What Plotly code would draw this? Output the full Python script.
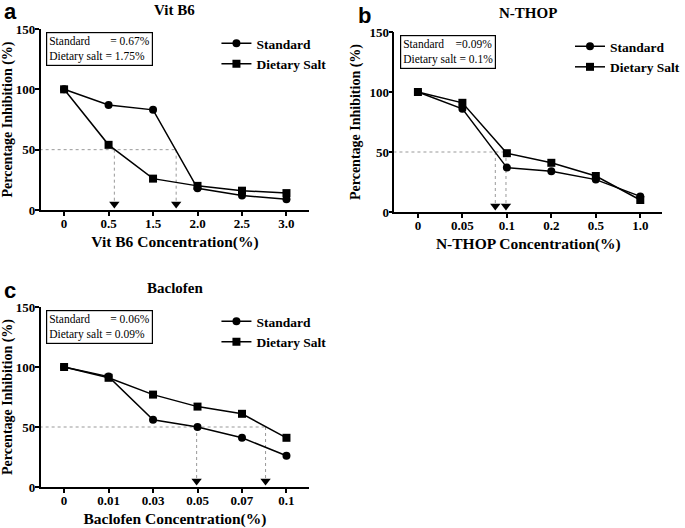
import plotly.graph_objects as go

# category labels per panel
cats_a = ["0", "0.5", "1.5", "2.0", "2.5", "3.0"]
cats_b = ["0", "0.05", "0.1", "0.2", "0.5", "1.0"]
cats_c = ["0", "0.01", "0.03", "0.05", "0.07", "0.1"]

# percentage inhibition
std_a = [100, 87, 83, 18, 12, 9]
salt_a = [100, 54, 26, 20, 16, 14]
std_b = [100, 86, 37, 34, 27, 13]
salt_b = [100, 91, 49, 41, 30, 10]
std_c = [100, 92, 56, 50, 41, 26]
salt_c = [100, 91, 77, 67, 61, 41]

# IC50 arrow positions (in category index units)
ic50_a = [1.13, 2.52]
ic50_b = [1.74, 1.98]
ic50_c = [2.98, 4.53]

titles = ["Vit B6", "N-THOP", "Baclofen"]
xtitles = ["Vit B6 Concentration(%)", "N-THOP Concentration(%)", "Baclofen Concentration(%)"]
boxes = [
    "Standard\u00a0\u00a0\u00a0\u00a0\u00a0\u00a0 = 0.67%<br>Dietary salt = 1.75%",
    "Standard\u00a0\u00a0\u00a0\u00a0=0.09%<br>Dietary salt = 0.1%",
    "Standard\u00a0\u00a0\u00a0\u00a0\u00a0\u00a0 = 0.06%<br>Dietary salt = 0.09%",
]
letters = ["a", "b", "c"]

W, H = 685, 528
SERIF = "Liberation Serif"

# pixel boxes: (left, right, top(150), bottom(0))
panels = [(41, 313, 29, 210), (399, 670, 32, 212), (41, 313, 307, 487)]

fig = go.Figure()
data = [(cats_a, std_a, salt_a, ic50_a), (cats_b, std_b, salt_b, ic50_b), (cats_c, std_c, salt_c, ic50_c)]
idx = list(range(6))

for i, (cats, std, salt, ic50) in enumerate(data):
    n = "" if i == 0 else str(i + 1)
    xa, ya = "x" + n, "y" + n
    leg = "legend" + n
    l, r, t, b = panels[i]
    # 50% reference lines
    fig.add_trace(go.Scatter(x=[-0.55, max(ic50)], y=[50, 50], mode="lines",
                             line=dict(color="#999", width=1, dash="dot"),
                             xaxis=xa, yaxis=ya, showlegend=False, hoverinfo="skip"))
    for v in ic50:
        fig.add_trace(go.Scatter(x=[v, v], y=[50, 6], mode="lines",
                                 line=dict(color="#999", width=1, dash="dot"),
                                 xaxis=xa, yaxis=ya, showlegend=False, hoverinfo="skip"))
    fig.add_trace(go.Scatter(x=ic50, y=[5, 5], mode="markers",
                             marker=dict(symbol="triangle-down", size=9, color="black"),
                             xaxis=xa, yaxis=ya, showlegend=False, cliponaxis=False))
    fig.add_trace(go.Scatter(x=idx, y=std, mode="lines+markers", name="Standard",
                             line=dict(color="black", width=1.5),
                             marker=dict(symbol="circle", size=8, color="black"),
                             xaxis=xa, yaxis=ya, legend=leg, cliponaxis=False))
    fig.add_trace(go.Scatter(x=idx, y=salt, mode="lines+markers", name="Dietary Salt",
                             line=dict(color="black", width=1.5),
                             marker=dict(symbol="square", size=8, color="black"),
                             xaxis=xa, yaxis=ya, legend=leg, cliponaxis=False))

    x0 = -0.53
    x1 = x0 + (r - l) / 45.0
    fig.layout["xaxis" + n] = dict(
        domain=[l / W, r / W], anchor=ya, range=[x0, x1], automargin=False,
        tickvals=idx, ticktext=cats, showline=True, linecolor="black", linewidth=1.5,
        ticks="outside", ticklen=4, tickwidth=1.5, tickcolor="black", showgrid=False, zeroline=False,
        ticklabelstandoff=-3,
        tickfont=dict(family=SERIF, size=13, color="black", weight="bold"),
        title=dict(text="<b>" + xtitles[i] + "</b>", font=dict(family=SERIF, size=15.5, color="black"), standoff=6),
    )
    fig.layout["yaxis" + n] = dict(
        domain=[1 - b / H, 1 - t / H], anchor=xa, range=[0, 150], automargin=False,
        tickvals=[0, 50, 100, 150], showline=True, linecolor="black", linewidth=1.5,
        ticks="outside", ticklen=4, tickwidth=1.5, tickcolor="black", showgrid=False, zeroline=False,
        ticklabelstandoff=-3,
        tickfont=dict(family=SERIF, size=13, color="black", weight="bold"),
        title=dict(text="<b>Percentage Inhibition (%)</b>", font=dict(family=SERIF, size=14, color="black"), standoff=6),
    )
    fig.layout[leg] = dict(
        x=(l + 178) / W, y=1 - (t - 1) / H, xanchor="left", yanchor="top",
        bgcolor="rgba(0,0,0,0)", itemwidth=30, tracegroupgap=0,
        font=dict(family=SERIF, size=13.5, color="black", weight="bold"),
    )
    # panel title
    fig.add_annotation(x=(l + r) / 2 / W, y=1 - (t - 19) / H, xref="paper", yref="paper",
                       xanchor="center", yanchor="middle",
                       text="<b>" + titles[i] + "</b>", showarrow=False,
                       font=dict(family=SERIF, size=15, color="black"))
    # IC50 box
    fig.add_annotation(x=(l + 6) / W, y=1 - (t + 3) / H, xref="paper", yref="paper",
                       xanchor="left", yanchor="top", align="left",
                       text=boxes[i], showarrow=False, bordercolor="black", borderwidth=1.2,
                       borderpad=2, bgcolor="white",
                       font=dict(family=SERIF, size=11.5, color="black"))
    # panel letter
    fig.add_annotation(x=(l - 39) / W, y=1 - (t - 17) / H, xref="paper", yref="paper",
                       xanchor="left", yanchor="middle", text="<b>" + letters[i] + "</b>", showarrow=False,
                       font=dict(family="Liberation Sans", size=22, color="black"))

fig.update_layout(width=W, height=H, margin=dict(l=0, r=0, t=0, b=0),
                  plot_bgcolor="white", paper_bgcolor="white", showlegend=True)
fig.write_html("out.html", config={"displayModeBar": False, "responsive": False},
               post_script="document.body.style.margin='0';document.body.style.overflow='hidden';"
                           "document.documentElement.style.overflow='hidden';")
